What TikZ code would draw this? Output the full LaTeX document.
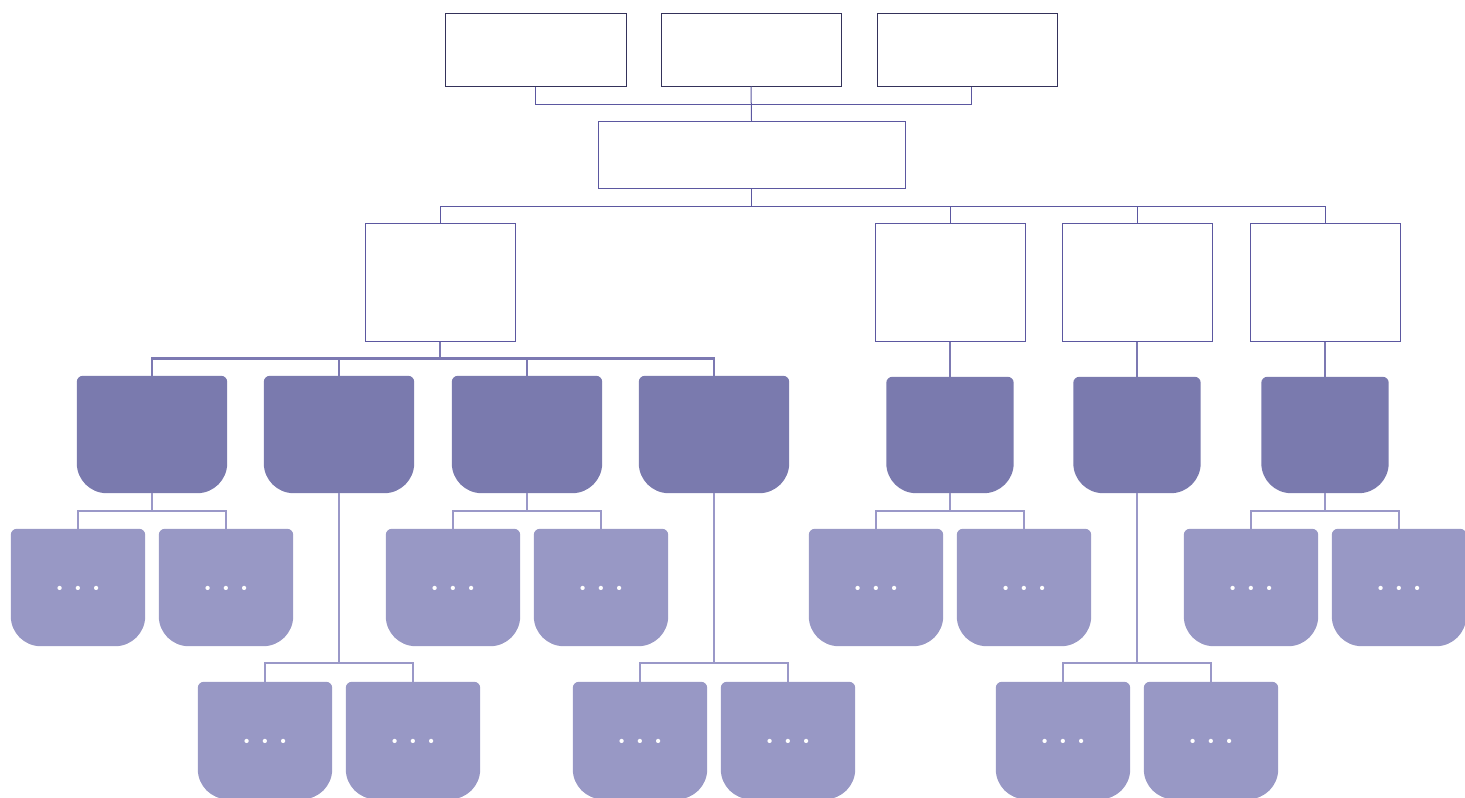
\documentclass[tikz,border=0pt]{standalone}
\usepackage{tikz}

\definecolor{topline}{HTML}{34325A}
\definecolor{midline}{HTML}{5B57A0}
\definecolor{grpline}{HTML}{7C79B2}
\definecolor{leafline}{HTML}{9A98C8}
\definecolor{grpfill}{HTML}{7A7AAE}
\definecolor{leaffill}{HTML}{9898C5}

\tikzset{
  topbox/.style={rectangle, draw=topline, line width=1pt, minimum width=180pt, minimum height=73pt, inner sep=0pt},
  midbox/.style={rectangle, draw=midline, line width=1pt, minimum width=307pt, minimum height=67pt, inner sep=0pt},
  secbox/.style={rectangle, draw=midline, line width=1pt, minimum width=150pt, minimum height=118pt, inner sep=0pt},
  grpbox/.style={rectangle, minimum width=150pt, minimum height=117pt, inner sep=0pt},
  smallgrp/.style={rectangle, minimum width=127pt, minimum height=116pt, inner sep=0pt},
  leafbox/.style={rectangle, minimum width=134pt, minimum height=117pt, inner sep=0pt},
  dotstext/.style={text=white, font=\fontsize{19}{19}\selectfont, inner sep=0pt},
  topedge/.style={draw=midline, line width=1pt},
  grpedge/.style={draw=grpline, line width=2.2pt},
  leafedge/.style={draw=leafline, line width=2.2pt},
}

% tab shape: small corners on top, large corners at the bottom
\newcommand\tabfill[2]{%
  \fill[#2] ([yshift=-6pt]#1.north west) arc[start angle=180, end angle=90, radius=6pt]
    -- ([xshift=-6pt]#1.north east) arc[start angle=90, end angle=0, radius=6pt]
    -- ([yshift=30pt]#1.south east) arc[start angle=0, end angle=-90, radius=30pt]
    -- ([xshift=30pt]#1.south west) arc[start angle=270, end angle=180, radius=30pt]
    -- cycle;}
\newcommand\dotsrow{\textbullet\hspace{4.5pt}\textbullet\hspace{4.5pt}\textbullet}

\begin{document}
\begin{tikzpicture}[x=1pt, y=-1pt]
		\useasboundingbox (0,0) rectangle (1465,798);
		
		% Top row of boxes
		\node[topbox, minimum width=181pt] (top1) at (535.5,49.5) {};
		\node[topbox] (top2) at (751,49.5) {};
		\node[topbox] (top3) at (967,49.5) {};
		
		% Middle box
		\node[midbox] (mid) at (751.5,154.5) {};
		
		% Second level boxes
		\node[secbox] (sec1) at (440,282) {};
		\node[secbox] (sec2) at (950,282) {};
		\node[secbox] (sec3) at (1137,282) {};
		\node[secbox] (sec4) at (1325,282) {};
		
		% Group boxes
		\node[grpbox] (grp1) at (152,434.5) {};
		\node[grpbox] (grp2) at (339,434.5) {};
		\node[grpbox] (grp3) at (527,434.5) {};
		\node[grpbox] (grp4) at (714,434.5) {};
		\node[smallgrp] (grp5) at (950,435) {};
		\node[smallgrp] (grp6) at (1137,435) {};
		\node[smallgrp] (grp7) at (1325,435) {};
		\foreach \g in {grp1,grp2,grp3,grp4,grp5,grp6,grp7}
		\tabfill{\g}{grpfill};
		
		% Leaf boxes, upper row
		\foreach \n/\x in {leaf1a/78,leaf1b/226,leaf3a/453,leaf3b/601,leaf5a/876,leaf5b/1024,leaf7a/1251,leaf7b/1399}
		{
			\node[leafbox] (\n) at (\x,587.5) {};
			\tabfill{\n}{leaffill};
			\node[dotstext] (\n txt) at ([yshift=-2pt]\n.center) {\dotsrow};
		}
		
		% Leaf boxes, lower row
		\foreach \n/\x in {leaf2a/265,leaf2b/413,leaf4a/640,leaf4b/788,leaf6a/1063,leaf6b/1211}
		{
			\node[leafbox] (\n) at (\x,740.5) {};
			\tabfill{\n}{leaffill};
			\node[dotstext] (\n txt) at ([yshift=-2pt]\n.center) {\dotsrow};
		}
		
		% Connect top boxes to middle box
		\draw[topedge] (top1.south) -- ++(0,18) -| (mid.north);
		\draw[topedge] (top2.south) -- (mid.north);
		\draw[topedge] ([xshift=4pt]top3.south) -- ++(0,18) -| (mid.north);
		
		% Connect middle box to second level
		\foreach \s in {sec1,sec2,sec3,sec4}
		\draw[topedge] (mid.south) -- ++(0,18) -| (\s.north);
		
		% Connect second level to groups
		\foreach \g in {grp1,grp2,grp3,grp4}
		\draw[grpedge] (sec1.south) -- ++(0,17) -| (\g.north);
		\draw[grpedge] (sec2.south) -- (grp5.north);
		\draw[grpedge] (sec3.south) -- (grp6.north);
		\draw[grpedge] (sec4.south) -- (grp7.north);
		
		% Connect groups to leaves
		\foreach \g/\a/\b in {grp1/leaf1a/leaf1b,grp3/leaf3a/leaf3b,grp5/leaf5a/leaf5b,grp7/leaf7a/leaf7b}
		{
			\draw[leafedge] (\g.south) -- ++(0,18) -| (\a.north);
			\draw[leafedge] (\g.south) -- ++(0,18) -| (\b.north);
		}
		\foreach \g/\a/\b in {grp2/leaf2a/leaf2b,grp4/leaf4a/leaf4b,grp6/leaf6a/leaf6b}
		{
			\draw[leafedge] (\g.south) -- ++(0,170) -| (\a.north);
			\draw[leafedge] (\g.south) -- ++(0,170) -| (\b.north);
		}
	\end{tikzpicture}
\end{document}
